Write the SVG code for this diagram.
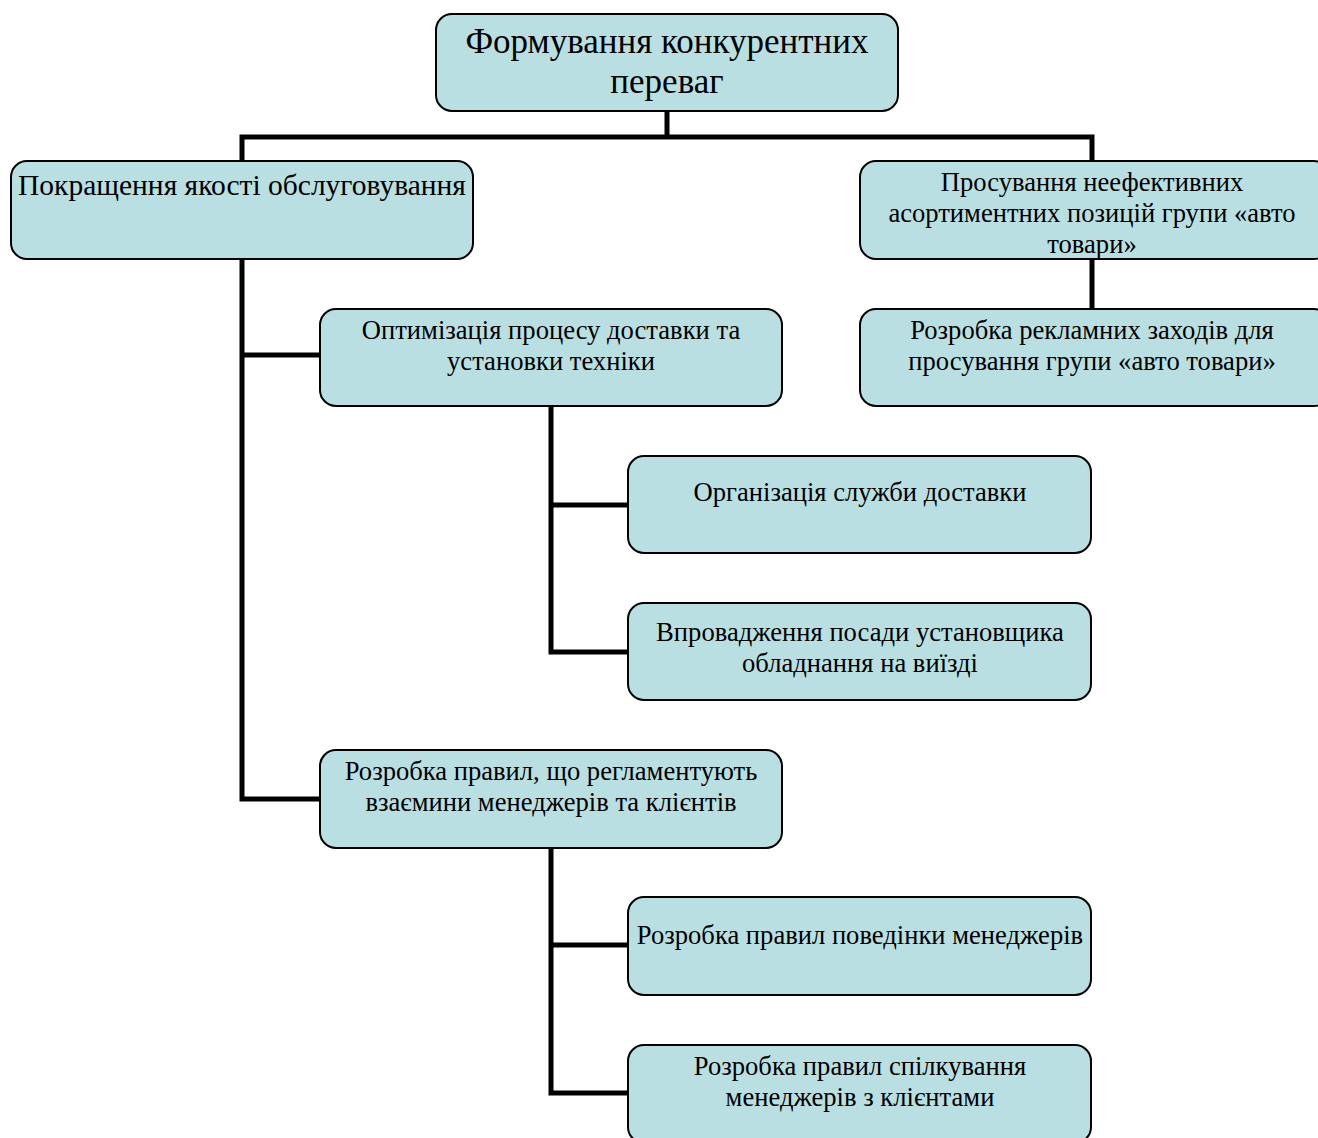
<svg xmlns="http://www.w3.org/2000/svg" width="1318" height="1138" viewBox="0 0 1318 1138">
<style>
.box{fill:#B9DFE3;stroke:#000;stroke-width:2}
.t{font-family:"Liberation Serif","Times New Roman",serif;font-size:26.6px;fill:#000;text-anchor:middle}
.c{fill:none;stroke:#000;stroke-width:5}
</style>
<rect x="0" y="0" width="1318" height="1138" fill="#fff"/>
<g id="connectors">
<polyline class="c" points="667,111 667,137"/>
<polyline class="c" points="242,161 242,137 1092,137 1092,161"/>
<polyline class="c" points="242,259 242,799 320,799"/>
<polyline class="c" points="242,355 320,355"/>
<polyline class="c" points="1092,259 1092,309"/>
<polyline class="c" points="551,406 551,652 628,652"/>
<polyline class="c" points="551,505 628,505"/>
<polyline class="c" points="551,848 551,1093 628,1093"/>
<polyline class="c" points="551,945 628,945"/>
</g>
<g id="n0"><rect class="box" x="436" y="14" width="462" height="97" rx="16"/>
<text class="t" style="font-size:35px" x="667" y="53">Формування конкурентних</text>
<text class="t" style="font-size:35px" x="667" y="93">переваг</text></g>
<g id="n1"><rect class="box" x="11" y="161" width="462" height="98" rx="16"/>
<text class="t" style="font-size:29.5px" x="242" y="195">Покращення якості обслуговування</text></g>
<g id="n2"><rect class="box" x="860" y="161" width="470" height="98" rx="16"/>
<text class="t" x="1092" y="191">Просування неефективних</text>
<text class="t" x="1092" y="222">асортиментних позицій групи «авто</text>
<text class="t" x="1092" y="253">товари»</text></g>
<g id="n3"><rect class="box" x="860" y="309" width="470" height="97" rx="16"/>
<text class="t" x="1092" y="339">Розробка рекламних заходів для</text>
<text class="t" x="1092" y="370">просування групи «авто товари»</text></g>
<g id="n4"><rect class="box" x="320" y="309" width="462" height="97" rx="16"/>
<text class="t" x="551" y="339">Оптимізація процесу доставки та</text>
<text class="t" x="551" y="370">установки техніки</text></g>
<g id="n5"><rect class="box" x="628" y="456" width="463" height="97" rx="16"/>
<text class="t" x="860" y="501">Організація служби доставки</text></g>
<g id="n6"><rect class="box" x="628" y="603" width="463" height="97" rx="16"/>
<text class="t" x="860" y="641">Впровадження посади установщика</text>
<text class="t" x="860" y="672">обладнання на виїзді</text></g>
<g id="n7"><rect class="box" x="320" y="750" width="462" height="98" rx="16"/>
<text class="t" x="551" y="780">Розробка правил, що регламентують</text>
<text class="t" x="551" y="811">взаємини менеджерів та клієнтів</text></g>
<g id="n8"><rect class="box" x="628" y="897" width="463" height="98" rx="16"/>
<text class="t" x="860" y="944">Розробка правил поведінки менеджерів</text></g>
<g id="n9"><rect class="box" x="628" y="1045" width="463" height="98" rx="16"/>
<text class="t" x="860" y="1075">Розробка правил спілкування</text>
<text class="t" x="860" y="1106">менеджерів з клієнтами</text></g>
</svg>
